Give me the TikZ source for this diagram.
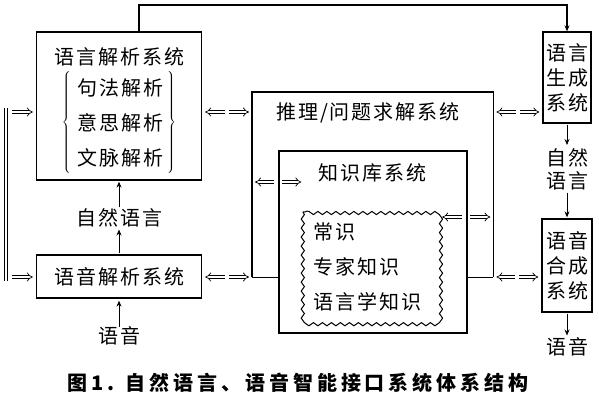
\documentclass[tikz,border=0pt]{standalone}
\usepackage{fontspec}
\setmainfont{Noto Sans CJK SC}[LetterSpace=10]
\newfontfamily\capfont{Noto Sans CJK SC}[LetterSpace=19.5]
\usetikzlibrary{arrows.meta,calc,decorations.pathmorphing}

% double arrow pair with a gap in the middle
\newcommand{\bidir}[3][2]{%
  \draw[dar, {Implies}-, shorten <=3pt, shorten >=#1pt] #2 -- ($#2!0.5!#3$);
  \draw[dar, -{Implies}, shorten <=#1pt, shorten >=3pt] ($#2!0.5!#3$) -- #3;}

\begin{document}
\begin{tikzpicture}[x=1pt, y=-1pt, every node/.style={font=\fontsize{20}{25}\selectfont, inner sep=0pt}, >={Stealth[length=6pt, width=5pt]}, box/.style={draw, line width=1.3pt}, dar/.style={double, double distance=2.4pt, line width=0.7pt}, wavy/.style={decorate, decoration={snake, amplitude=1.6pt, segment length=9pt}, line width=1pt}]
	\useasboundingbox (0,0) rectangle (599,404);
	\coordinate (y1) at (0,112);
	\coordinate (y2) at (0,277);
	\coordinate (y3) at (0,182);
	\coordinate (y4) at (0,217);
	\coordinate (fb) at (139,5);
	% left column
	\node[box, minimum width=165pt, minimum height=148pt] (lang) at (119,106) {};
	\node (langT) at (119,57) {语言解析系统};
	\node[align=center, font=\fontsize{20}{35}\selectfont] (langI) at (120,123) {句法解析\\意思解析\\文脉解析};
	\node (langL) at (67,123) {$\left\{\rule[-46pt]{0pt}{92pt}\right.$};
	\node (langR) at (171,123) {$\left.\rule[-46pt]{0pt}{92pt}\right\}$};
	\node (nlL) at (119,218) {自然语言};
	\node[box, minimum width=165pt, minimum height=43pt] (speech) at (119,276.5) {语音解析系统};
	\node (speechL) at (119,336) {语音};
	% middle
	\node[minimum width=241pt, minimum height=185pt, anchor=north west] (reason) at (252,92) {};
	\node (reasonT) at (368,113) {推理/问题求解系统};
	\node[box, minimum width=188pt, minimum height=182pt] (kb) at (373,242) {};
	\node (kbT) at (372,173) {知识库系统};
	\node[minimum width=136pt, minimum height=108pt] (kbw) at (371,266) {};
	\node[anchor=west, align=left, font=\fontsize{20}{35}\selectfont] (kbI) at (313,267) {常识\\专家知识\\语言学知识};
	% right column
	\node[box, minimum width=48pt, minimum height=91pt, align=center] (gen) at (567,77.5) {语言\\生成\\系统};
	\node[align=center, font=\fontsize{20}{23}\selectfont] (nlR) at (567,169) {自然\\语言};
	\node[box, minimum width=50pt, minimum height=93pt, align=center] (synth) at (567,265.5) {语音\\合成\\系统};
	\node (speechR) at (567,347) {语音};
	% caption
	\node[font=\fontsize{20}{24}\selectfont\capfont\bfseries] (cap) at (298,383) {图1. 自然语言、语音智能接口系统体系结构};
	% reasoning frame and knowledge base
	\draw[line width=1.3pt] (reason.south west) -- (reason.north west) -- (reason.north east) -- (reason.south east);
	\draw[line width=1.3pt] (reason.south west) -- (kb.west |- reason.south west);
	\draw[line width=1.3pt] (kb.east |- reason.south east) -- (reason.south east);
	\draw[wavy] (kbw.north west) rectangle (kbw.south east);
	% plain arrows
	\draw[->, line width=0.9pt, shorten >=2pt] (speechL) -- (speech);
	\draw[->, line width=0.9pt, shorten >=2pt, shorten <=1pt] (speech) -- (nlL);
	\draw[->, line width=0.9pt, shorten <=2pt, shorten >=1pt] (nlL) -- (lang);
	\draw[->, line width=0.9pt, shorten >=3pt, shorten <=1pt] (gen) -- (nlR);
	\draw[->, line width=0.9pt, shorten <=3pt, shorten >=1pt] (nlR) -- (synth);
	\draw[->, line width=0.9pt, shorten >=2pt, shorten <=1pt] (synth) -- (speechR);
	\draw[->, line width=1.3pt] (lang.north -| fb) -- (fb) -| (gen.north);
	% left bus
	\coordinate (busT) at (6,108);
	\coordinate (busB) at (6,281);
	\draw[dar] (busT) -- (busB);
	\draw[dar, -{Implies}, shorten <=6pt, shorten >=3pt] (busT |- y1) -- (lang.west |- y1);
	\draw[dar, -{Implies}, shorten <=6pt, shorten >=3pt] (busT |- y2) -- (speech.west |- y2);
	% double arrows
	\bidir{(lang.east |- y1)}{(reason.west |- y1)}
	\bidir{(reason.east |- y1)}{(gen.west |- y1)}
	\bidir{(speech.east |- y2)}{(reason.west |- y2)}
	\bidir{(reason.east |- y2)}{(synth.west |- y2)}
	\coordinate (k1) at ($(kb.west |- y3)+(26,0)$);
	\bidir[4]{(reason.west |- y3)}{(k1)}
	\bidir[4]{(kbw.east |- y4)}{(reason.east |- y4)}
\end{tikzpicture}
\end{document}
